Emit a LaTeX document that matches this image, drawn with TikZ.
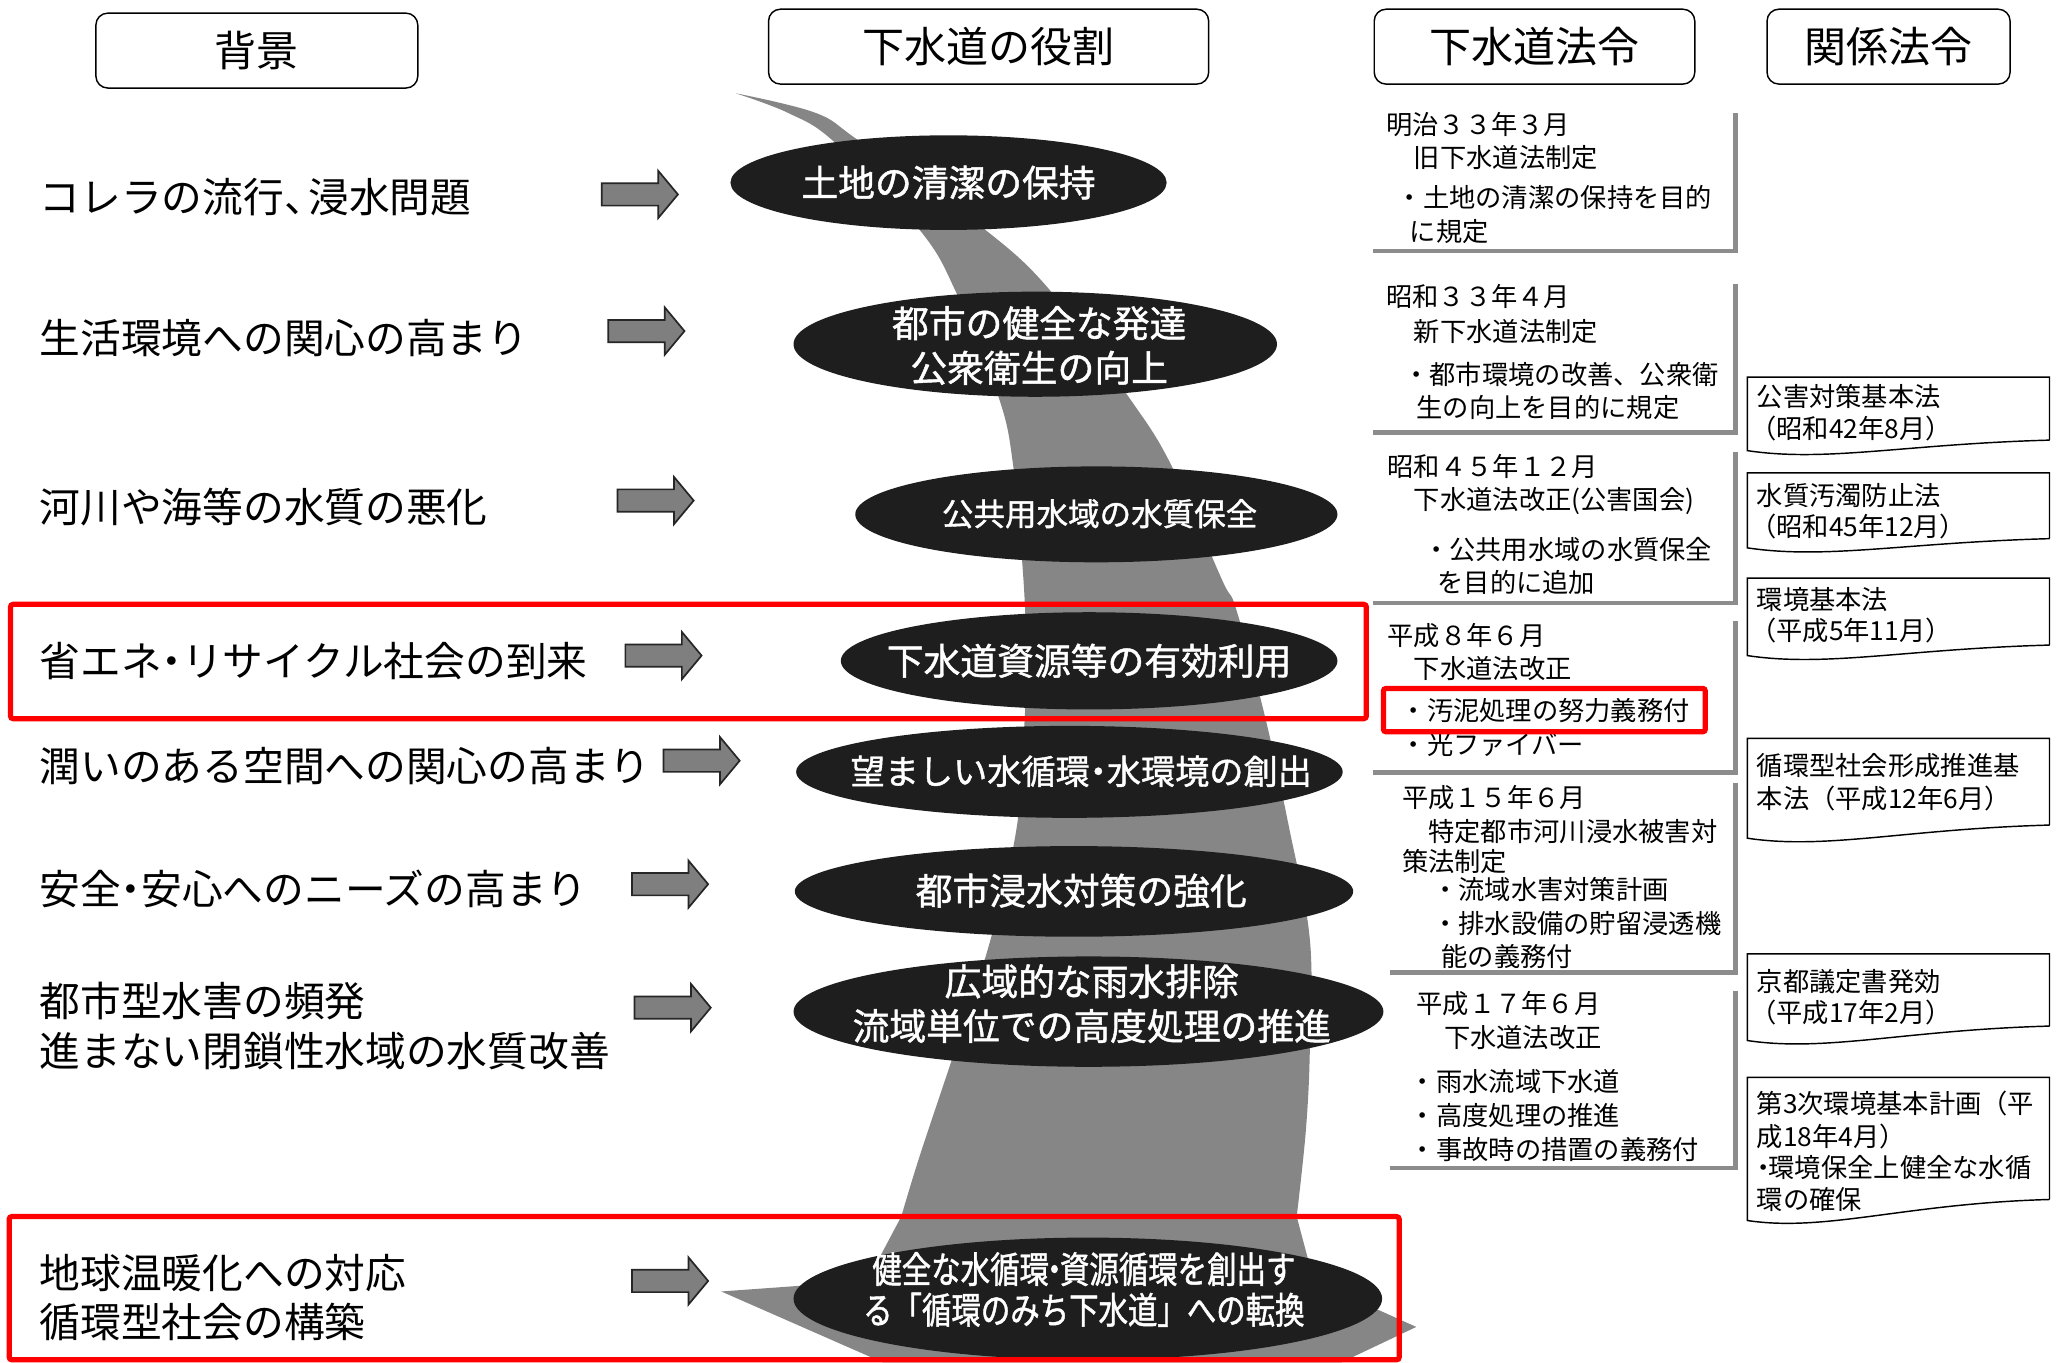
\documentclass[tikz,border=0pt]{standalone}
\usepackage{fontspec}
\setmainfont{Noto Sans CJK JP}
\newfontfamily\jpbold{Noto Sans CJK JP}[FakeBold=1.2]
\newfontfamily\jpcond{Noto Sans CJK JP}[FakeStretch=0.8,FakeBold=1.2]
\usetikzlibrary{shapes.geometric}
\definecolor{bandgray}{HTML}{868686}
\definecolor{ellblack}{HTML}{1E1E1E}
\definecolor{arrgray}{HTML}{7F7F7F}
\definecolor{linegray}{HTML}{8C8C8C}
\definecolor{hired}{HTML}{FF0000}
\newcommand{\nd}{\hspace{-0.25em}・\hspace{-0.25em}}
\tikzset{
  hdr/.style={draw, line width=1.1pt, rounded corners=9pt, inner sep=0pt, font=\fontsize{32}{36}\selectfont},
  lt/.style={anchor=west, inner sep=0pt, text height=27.3pt, text depth=3.7pt, font=\fontsize{31}{36}\selectfont},
  rt/.style={anchor=west, inner sep=0pt, text height=17.6pt, text depth=2.4pt, font=\fontsize{20}{24}\selectfont},
  ell/.style={ellipse, fill=ellblack, inner sep=0pt},
  etA/.style={text=white, inner sep=0pt, text height=24.6pt, text depth=3.4pt, font=\jpbold\fontsize{28}{32}\selectfont},
  etB/.style={text=white, inner sep=0pt, text height=21.1pt, text depth=2.9pt, font=\jpbold\fontsize{24}{28}\selectfont},
  etC/.style={text=white, inner sep=0pt, text height=22.9pt, text depth=3.1pt, font=\jpbold\fontsize{26}{30}\selectfont},
  glines/.style={draw=linegray, line width=3.6pt},
  docbox/.style={draw, line width=1.1pt},
  redframe/.style={draw=hired, line width=4pt, rounded corners=2pt},
  barrow/.pic={\draw[line width=1.3pt, draw=black!85, fill=arrgray, line join=miter]
     (0,-8.5) -- (43,-8.5) -- (43,-18) -- (58,0) -- (43,18) -- (43,8.5) -- (0,8.5) -- cycle;}
}
\newcommand{\relbox}[5]{%
  \draw[docbox] (#3,#5) -- (#3,#2) -- (#1,#2) -- (#1,#4)
     .. controls ({#1+60},{#4+9}) and ({#3-110},{#5+3}) .. (#3,#5);}
\begin{document}
\begin{tikzpicture}[x=1pt,y=-1pt]
\useasboundingbox (0,0) rectangle (1568,1037);
\fill[white] (0,0) rectangle (1568,1037);

% gray swoosh band
\fill[bandgray] plot[smooth, tension=0.6] coordinates {(560,71) (600,86) (635,108) (700,175) (728,223) (760,302) (771,353) (779,441) (781,500) (780,546) (774,629) (754,715) (727,799) (700,880) (686,926)}
  -- (660,975) -- (549,983) -- (672,1037) -- (1021,1037) -- (1078,1010) -- (1000,975)
  -- plot[smooth, tension=0.6] coordinates {(987,926) (994,860) (997,799) (997,715) (981,629) (963,546) (941,464) (930,441) (891,353) (859,302) (801,223) (750,175) (655,108) (621,86) (560,71)} -- cycle;

% headers
\node[hdr, minimum width=245pt, minimum height=57pt] (h1) at (195.5,38.5) {背景};
\node[hdr, minimum width=335pt, minimum height=57pt] (h2) at (752.5,35.5) {下水道の役割};
\node[hdr, minimum width=244pt, minimum height=57pt] (h3) at (1168,35.5) {下水道法令};
\node[hdr, minimum width=185pt, minimum height=57pt] (h4) at (1437.5,35.5) {関係法令};

% ellipses
\node[ell, minimum width=332pt, minimum height=72pt] (e1) at (722,139) {};
\node[ell, minimum width=368pt, minimum height=80pt] (e2) at (788,262) {};
\node[ell, minimum width=367pt, minimum height=73pt] (e3) at (834.5,391.5) {};
\node[ell, minimum width=378pt, minimum height=74pt] (e4) at (829,503) {};
\node[ell, minimum width=416pt, minimum height=70pt] (e5) at (814,587.5) {};
\node[ell, minimum width=425pt, minimum height=69pt] (e6) at (817.5,678.5) {};
\node[ell, minimum width=449pt, minimum height=84pt] (e7) at (828.5,770) {};
\node[ell, minimum width=448pt, minimum height=93pt] (e8) at (828,988.5) {};

\node[etA] (t1) at (722,139) {土地の清潔の保持};
\node[etA] (t2a) at (791,246) {都市の健全な発達};
\node[etA] (t2b) at (791,280) {公衆衛生の向上};
\node[etB] (t3) at (837,391) {公共用水域の水質保全};
\node[etA] (t4) at (829,503) {下水道資源等の有効利用};
\node[etC] (t5) at (823,587) {望ましい水循環\nd 水環境の創出};
\node[etA] (t6) at (823,678) {都市浸水対策の強化};
\node[etA] (t7a) at (831,747) {広域的な雨水排除};
\node[etA] (t7b) at (831,781) {流域単位での高度処理の推進};
\node[etA, font=\jpcond\fontsize{28}{32}\selectfont] (t8a) at (825,966) {健全な水循環\nd 資源循環を創出す};
\node[etA, font=\jpcond\fontsize{28}{32}\selectfont] (t8b) at (825,997) {る「循環のみち下水道」への転換};

% background texts
\node[lt] (b1) at (30,150) {コレラの流行、\hspace{-0.4em}浸水問題};
\node[lt] (b2) at (30,257) {生活環境への関心の高まり};
\node[lt] (b3) at (30,386) {河川や海等の水質の悪化};
\node[lt] (b4) at (30,503) {省エネ\nd リサイクル社会の到来};
\node[lt] (b5) at (30,583) {潤いのある空間への関心の高まり};
\node[lt] (b6) at (30,677) {安全\nd 安心へのニーズの高まり};
\node[lt] (b7a) at (30,762) {都市型水害の頻発};
\node[lt] (b7b) at (30,800) {進まない閉鎖性水域の水質改善};
\node[lt] (b8a) at (30,969) {地球温暖化への対応};
\node[lt] (b8b) at (30,1006) {循環型社会の構築};

% block arrows
\pic at (458,148) {barrow};
\pic at (463,252) {barrow};
\pic at (470,381) {barrow};
\pic at (476,499) {barrow};
\pic at (505,579) {barrow};
\pic at (481,673) {barrow};
\pic at (483,767) {barrow};
\pic at (481,975) {barrow};

% sewerage law blocks: gray L lines
\draw[glines] (1045,191) -- (1321,191) -- (1321,86);
\draw[glines] (1045,329) -- (1321,329) -- (1321,216);
\draw[glines] (1045,459) -- (1321,459) -- (1321,344);
\draw[glines] (1045,588) -- (1321,588) -- (1321,473);
\draw[glines] (1058,740) -- (1321,740) -- (1321,596);
\draw[glines] (1058,889) -- (1321,889) -- (1321,754);

\node[rt] (r1) at (1055,95) {明治３３年３月};
\node[rt] (r2) at (1076,120) {旧下水道法制定};
\node[rt] (r3) at (1063,150) {・土地の清潔の保持を目的};
\node[rt] (r4) at (1073,176) {に規定};
\node[rt] (r5) at (1055,226) {昭和３３年４月};
\node[rt] (r6) at (1076,252) {新下水道法制定};
\node[rt] (r7) at (1068,285) {・都市環境の改善、公衆衛};
\node[rt] (r8) at (1078,310) {生の向上を目的に規定};
\node[rt] (r9) at (1056,355) {昭和４５年１２月};
\node[rt] (r10) at (1076,380) {下水道法改正(公害国会)};
\node[rt] (r11) at (1083,418) {・公共用水域の水質保全};
\node[rt] (r12) at (1094,443) {を目的に追加};
\node[rt] (r13) at (1056,484) {平成８年６月};
\node[rt] (r14) at (1076,509) {下水道法改正};
\node[rt] (r15) at (1066,541) {・汚泥処理の努力義務付};
\node[rt] (r16) at (1066,567) {・光ファイバー};
\node[rt] (r17) at (1067,607) {平成１５年６月};
\node[rt] (r18) at (1087,633) {特定都市河川浸水被害対};
\node[rt] (r19) at (1067,656) {策法制定};
\node[rt] (r20) at (1090,677) {・流域水害対策計画};
\node[rt] (r21) at (1090,703) {・排水設備の貯留浸透機};
\node[rt] (r22) at (1097,728) {能の義務付};
\node[rt] (r23) at (1078,764) {平成１７年６月};
\node[rt] (r24) at (1099,790) {下水道法改正};
\node[rt] (r25) at (1073,823) {・雨水流域下水道};
\node[rt] (r26) at (1073,849) {・高度処理の推進};
\node[rt] (r27) at (1073,875) {・事故時の措置の義務付};

% related laws
\relbox{1330}{287}{1560}{343}{335}
\relbox{1330}{360}{1560}{417}{410}
\relbox{1330}{440}{1560}{499}{491}
\relbox{1330}{562}{1560}{638}{628}
\relbox{1330}{726}{1560}{792}{781}
\relbox{1330}{820}{1560}{929}{913}
\node[rt] (k1) at (1337,302) {公害対策基本法};
\node[rt] (k2) at (1332,326) {（昭和42年8月）};
\node[rt] (k3) at (1337,377) {水質汚濁防止法};
\node[rt] (k4) at (1332,401) {（昭和45年12月）};
\node[rt] (k5) at (1337,456) {環境基本法};
\node[rt] (k6) at (1332,480) {（平成5年11月）};
\node[rt] (k7) at (1337,583) {循環型社会形成推進基};
\node[rt] (k8) at (1337,608) {本法（平成12年6月）};
\node[rt] (k9) at (1337,747) {京都議定書発効};
\node[rt] (k10) at (1332,771) {（平成17年2月）};
\node[rt] (k11) at (1337,840) {第3次環境基本計画（平};
\node[rt] (k12) at (1337,865) {成18年4月）};
\node[rt] (k13) at (1332,889) {・\hspace{-0.3em}環境保全上健全な水循};
\node[rt] (k14) at (1337,913) {環の確保};

% red highlight frames
\draw[redframe] (8,460) rectangle (1040,547);
\draw[redframe] (7,926) rectangle (1065,1035);
\draw[redframe] (1053,524) rectangle (1298,557);
\end{tikzpicture}
\end{document}
